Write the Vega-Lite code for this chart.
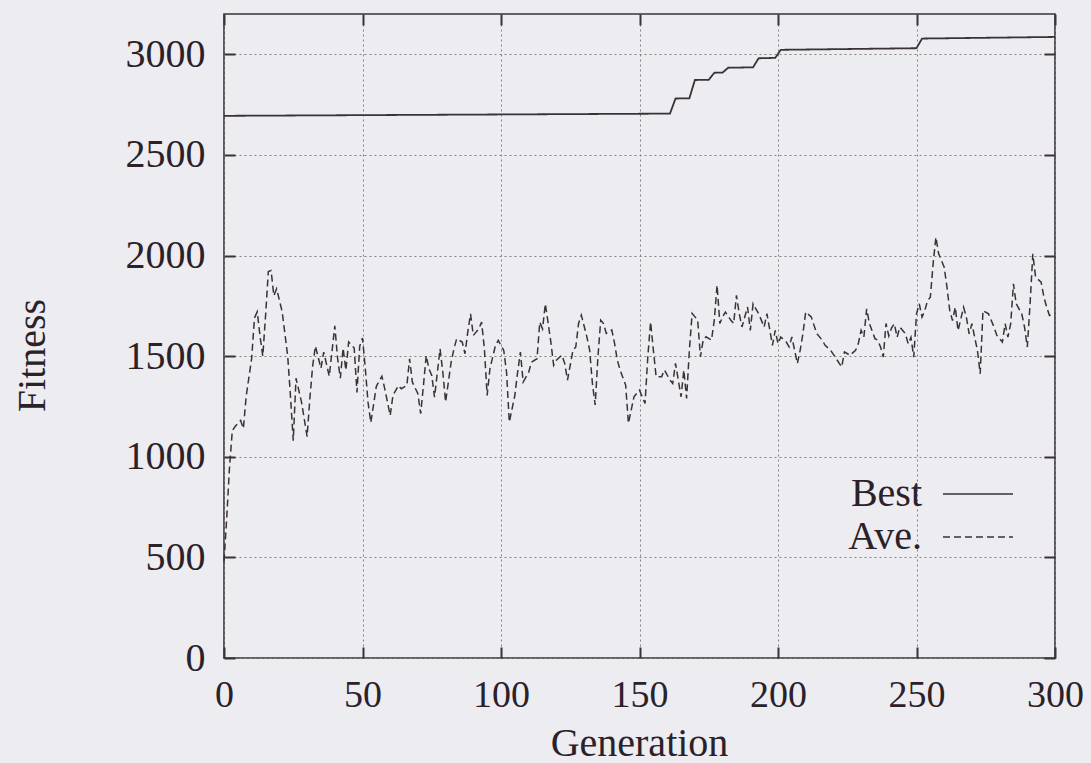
{
  "$schema": "https://vega.github.io/schema/vega-lite/v6.json",
  "autosize": {"type": "none"},
  "padding": {"left": 224, "top": 14, "right": 36, "bottom": 105},
  "width": 831,
  "height": 644,
  "background": "#edecf1",
  "config": {
    "font": "Liberation Serif",
    "view": {"stroke": "#3a3236", "strokeWidth": 1.6, "fill": "#edecf1"},
    "axis": {
      "domain": false,
      "tickSize": -11,
      "tickWidth": 2,
      "tickColor": "#3a3236",
      "labelFont": "Liberation Serif",
      "labelFontSize": 40,
      "labelColor": "#2a2228",
      "titleFont": "Liberation Serif",
      "titleFontSize": 40,
      "titleFontWeight": "normal",
      "titleColor": "#2a2228",
      "gridColor": "#808080",
      "gridDash": [2, 3],
      "gridWidth": 1
    },
    "legend": {
      "labelFont": "Liberation Serif",
      "labelFontSize": 40,
      "labelColor": "#2a2228"
    }
  },
  "datasets": {
    "fit": [
      {"Generation": 0, "Fitness": 2694, "Series": "Best"},
      {"Generation": 161, "Fitness": 2705, "Series": "Best"},
      {"Generation": 163, "Fitness": 2780, "Series": "Best"},
      {"Generation": 168, "Fitness": 2781, "Series": "Best"},
      {"Generation": 170, "Fitness": 2872, "Series": "Best"},
      {"Generation": 175, "Fitness": 2873, "Series": "Best"},
      {"Generation": 177, "Fitness": 2908, "Series": "Best"},
      {"Generation": 180, "Fitness": 2909, "Series": "Best"},
      {"Generation": 182, "Fitness": 2933, "Series": "Best"},
      {"Generation": 191, "Fitness": 2935, "Series": "Best"},
      {"Generation": 193, "Fitness": 2980, "Series": "Best"},
      {"Generation": 199, "Fitness": 2982, "Series": "Best"},
      {"Generation": 201, "Fitness": 3022, "Series": "Best"},
      {"Generation": 250, "Fitness": 3030, "Series": "Best"},
      {"Generation": 252, "Fitness": 3078, "Series": "Best"},
      {"Generation": 300, "Fitness": 3086, "Series": "Best"},
      {"Generation": 0, "Fitness": 480, "Series": "Ave."},
      {"Generation": 1, "Fitness": 700, "Series": "Ave."},
      {"Generation": 2, "Fitness": 950, "Series": "Ave."},
      {"Generation": 3, "Fitness": 1130, "Series": "Ave."},
      {"Generation": 4, "Fitness": 1150, "Series": "Ave."},
      {"Generation": 6, "Fitness": 1180, "Series": "Ave."},
      {"Generation": 7, "Fitness": 1140, "Series": "Ave."},
      {"Generation": 8, "Fitness": 1300, "Series": "Ave."},
      {"Generation": 10, "Fitness": 1490, "Series": "Ave."},
      {"Generation": 11, "Fitness": 1690, "Series": "Ave."},
      {"Generation": 12, "Fitness": 1720, "Series": "Ave."},
      {"Generation": 13, "Fitness": 1600, "Series": "Ave."},
      {"Generation": 14, "Fitness": 1500, "Series": "Ave."},
      {"Generation": 15, "Fitness": 1700, "Series": "Ave."},
      {"Generation": 16, "Fitness": 1920, "Series": "Ave."},
      {"Generation": 17, "Fitness": 1925, "Series": "Ave."},
      {"Generation": 18, "Fitness": 1800, "Series": "Ave."},
      {"Generation": 19, "Fitness": 1835, "Series": "Ave."},
      {"Generation": 21, "Fitness": 1720, "Series": "Ave."},
      {"Generation": 23, "Fitness": 1500, "Series": "Ave."},
      {"Generation": 24, "Fitness": 1300, "Series": "Ave."},
      {"Generation": 25, "Fitness": 1080, "Series": "Ave."},
      {"Generation": 26, "Fitness": 1390, "Series": "Ave."},
      {"Generation": 28, "Fitness": 1270, "Series": "Ave."},
      {"Generation": 30, "Fitness": 1100, "Series": "Ave."},
      {"Generation": 31, "Fitness": 1290, "Series": "Ave."},
      {"Generation": 32, "Fitness": 1450, "Series": "Ave."},
      {"Generation": 33, "Fitness": 1550, "Series": "Ave."},
      {"Generation": 35, "Fitness": 1440, "Series": "Ave."},
      {"Generation": 36, "Fitness": 1520, "Series": "Ave."},
      {"Generation": 38, "Fitness": 1400, "Series": "Ave."},
      {"Generation": 40, "Fitness": 1650, "Series": "Ave."},
      {"Generation": 41, "Fitness": 1490, "Series": "Ave."},
      {"Generation": 42, "Fitness": 1390, "Series": "Ave."},
      {"Generation": 43, "Fitness": 1540, "Series": "Ave."},
      {"Generation": 44, "Fitness": 1430, "Series": "Ave."},
      {"Generation": 45, "Fitness": 1570, "Series": "Ave."},
      {"Generation": 47, "Fitness": 1540, "Series": "Ave."},
      {"Generation": 48, "Fitness": 1320, "Series": "Ave."},
      {"Generation": 49, "Fitness": 1550, "Series": "Ave."},
      {"Generation": 50, "Fitness": 1590, "Series": "Ave."},
      {"Generation": 51, "Fitness": 1440, "Series": "Ave."},
      {"Generation": 52, "Fitness": 1270, "Series": "Ave."},
      {"Generation": 53, "Fitness": 1170, "Series": "Ave."},
      {"Generation": 55, "Fitness": 1350, "Series": "Ave."},
      {"Generation": 57, "Fitness": 1400, "Series": "Ave."},
      {"Generation": 58, "Fitness": 1340, "Series": "Ave."},
      {"Generation": 60, "Fitness": 1205, "Series": "Ave."},
      {"Generation": 61, "Fitness": 1305, "Series": "Ave."},
      {"Generation": 63, "Fitness": 1354, "Series": "Ave."},
      {"Generation": 64, "Fitness": 1338, "Series": "Ave."},
      {"Generation": 66, "Fitness": 1354, "Series": "Ave."},
      {"Generation": 67, "Fitness": 1487, "Series": "Ave."},
      {"Generation": 68, "Fitness": 1371, "Series": "Ave."},
      {"Generation": 70, "Fitness": 1313, "Series": "Ave."},
      {"Generation": 71, "Fitness": 1214, "Series": "Ave."},
      {"Generation": 72, "Fitness": 1354, "Series": "Ave."},
      {"Generation": 73, "Fitness": 1503, "Series": "Ave."},
      {"Generation": 74, "Fitness": 1437, "Series": "Ave."},
      {"Generation": 75, "Fitness": 1404, "Series": "Ave."},
      {"Generation": 76, "Fitness": 1296, "Series": "Ave."},
      {"Generation": 78, "Fitness": 1536, "Series": "Ave."},
      {"Generation": 79, "Fitness": 1420, "Series": "Ave."},
      {"Generation": 80, "Fitness": 1272, "Series": "Ave."},
      {"Generation": 82, "Fitness": 1470, "Series": "Ave."},
      {"Generation": 83, "Fitness": 1536, "Series": "Ave."},
      {"Generation": 84, "Fitness": 1586, "Series": "Ave."},
      {"Generation": 86, "Fitness": 1570, "Series": "Ave."},
      {"Generation": 87, "Fitness": 1512, "Series": "Ave."},
      {"Generation": 88, "Fitness": 1619, "Series": "Ave."},
      {"Generation": 89, "Fitness": 1710, "Series": "Ave."},
      {"Generation": 90, "Fitness": 1603, "Series": "Ave."},
      {"Generation": 92, "Fitness": 1636, "Series": "Ave."},
      {"Generation": 93, "Fitness": 1669, "Series": "Ave."},
      {"Generation": 94, "Fitness": 1536, "Series": "Ave."},
      {"Generation": 95, "Fitness": 1305, "Series": "Ave."},
      {"Generation": 96, "Fitness": 1437, "Series": "Ave."},
      {"Generation": 98, "Fitness": 1553, "Series": "Ave."},
      {"Generation": 99, "Fitness": 1578, "Series": "Ave."},
      {"Generation": 101, "Fitness": 1528, "Series": "Ave."},
      {"Generation": 102, "Fitness": 1420, "Series": "Ave."},
      {"Generation": 103, "Fitness": 1172, "Series": "Ave."},
      {"Generation": 105, "Fitness": 1305, "Series": "Ave."},
      {"Generation": 106, "Fitness": 1420, "Series": "Ave."},
      {"Generation": 107, "Fitness": 1520, "Series": "Ave."},
      {"Generation": 108, "Fitness": 1371, "Series": "Ave."},
      {"Generation": 110, "Fitness": 1420, "Series": "Ave."},
      {"Generation": 111, "Fitness": 1470, "Series": "Ave."},
      {"Generation": 113, "Fitness": 1487, "Series": "Ave."},
      {"Generation": 114, "Fitness": 1669, "Series": "Ave."},
      {"Generation": 115, "Fitness": 1636, "Series": "Ave."},
      {"Generation": 116, "Fitness": 1760, "Series": "Ave."},
      {"Generation": 118, "Fitness": 1570, "Series": "Ave."},
      {"Generation": 119, "Fitness": 1454, "Series": "Ave."},
      {"Generation": 120, "Fitness": 1480, "Series": "Ave."},
      {"Generation": 122, "Fitness": 1505, "Series": "Ave."},
      {"Generation": 123, "Fitness": 1464, "Series": "Ave."},
      {"Generation": 124, "Fitness": 1381, "Series": "Ave."},
      {"Generation": 126, "Fitness": 1530, "Series": "Ave."},
      {"Generation": 127, "Fitness": 1546, "Series": "Ave."},
      {"Generation": 128, "Fitness": 1662, "Series": "Ave."},
      {"Generation": 129, "Fitness": 1704, "Series": "Ave."},
      {"Generation": 131, "Fitness": 1596, "Series": "Ave."},
      {"Generation": 132, "Fitness": 1530, "Series": "Ave."},
      {"Generation": 133, "Fitness": 1364, "Series": "Ave."},
      {"Generation": 134, "Fitness": 1257, "Series": "Ave."},
      {"Generation": 135, "Fitness": 1497, "Series": "Ave."},
      {"Generation": 136, "Fitness": 1679, "Series": "Ave."},
      {"Generation": 137, "Fitness": 1662, "Series": "Ave."},
      {"Generation": 138, "Fitness": 1613, "Series": "Ave."},
      {"Generation": 140, "Fitness": 1630, "Series": "Ave."},
      {"Generation": 141, "Fitness": 1563, "Series": "Ave."},
      {"Generation": 142, "Fitness": 1480, "Series": "Ave."},
      {"Generation": 143, "Fitness": 1431, "Series": "Ave."},
      {"Generation": 145, "Fitness": 1356, "Series": "Ave."},
      {"Generation": 146, "Fitness": 1166, "Series": "Ave."},
      {"Generation": 148, "Fitness": 1298, "Series": "Ave."},
      {"Generation": 149, "Fitness": 1315, "Series": "Ave."},
      {"Generation": 150, "Fitness": 1331, "Series": "Ave."},
      {"Generation": 152, "Fitness": 1265, "Series": "Ave."},
      {"Generation": 153, "Fitness": 1497, "Series": "Ave."},
      {"Generation": 154, "Fitness": 1670, "Series": "Ave."},
      {"Generation": 155, "Fitness": 1530, "Series": "Ave."},
      {"Generation": 156, "Fitness": 1398, "Series": "Ave."},
      {"Generation": 158, "Fitness": 1398, "Series": "Ave."},
      {"Generation": 159, "Fitness": 1431, "Series": "Ave."},
      {"Generation": 161, "Fitness": 1381, "Series": "Ave."},
      {"Generation": 162, "Fitness": 1364, "Series": "Ave."},
      {"Generation": 163, "Fitness": 1464, "Series": "Ave."},
      {"Generation": 165, "Fitness": 1298, "Series": "Ave."},
      {"Generation": 166, "Fitness": 1431, "Series": "Ave."},
      {"Generation": 167, "Fitness": 1290, "Series": "Ave."},
      {"Generation": 168, "Fitness": 1530, "Series": "Ave."},
      {"Generation": 169, "Fitness": 1712, "Series": "Ave."},
      {"Generation": 171, "Fitness": 1679, "Series": "Ave."},
      {"Generation": 172, "Fitness": 1497, "Series": "Ave."},
      {"Generation": 173, "Fitness": 1580, "Series": "Ave."},
      {"Generation": 174, "Fitness": 1596, "Series": "Ave."},
      {"Generation": 176, "Fitness": 1580, "Series": "Ave."},
      {"Generation": 177, "Fitness": 1679, "Series": "Ave."},
      {"Generation": 178, "Fitness": 1853, "Series": "Ave."},
      {"Generation": 179, "Fitness": 1662, "Series": "Ave."},
      {"Generation": 180, "Fitness": 1695, "Series": "Ave."},
      {"Generation": 181, "Fitness": 1719, "Series": "Ave."},
      {"Generation": 183, "Fitness": 1678, "Series": "Ave."},
      {"Generation": 184, "Fitness": 1662, "Series": "Ave."},
      {"Generation": 185, "Fitness": 1802, "Series": "Ave."},
      {"Generation": 186, "Fitness": 1711, "Series": "Ave."},
      {"Generation": 187, "Fitness": 1645, "Series": "Ave."},
      {"Generation": 189, "Fitness": 1744, "Series": "Ave."},
      {"Generation": 190, "Fitness": 1628, "Series": "Ave."},
      {"Generation": 191, "Fitness": 1760, "Series": "Ave."},
      {"Generation": 192, "Fitness": 1735, "Series": "Ave."},
      {"Generation": 193, "Fitness": 1711, "Series": "Ave."},
      {"Generation": 195, "Fitness": 1645, "Series": "Ave."},
      {"Generation": 196, "Fitness": 1711, "Series": "Ave."},
      {"Generation": 198, "Fitness": 1554, "Series": "Ave."},
      {"Generation": 199, "Fitness": 1628, "Series": "Ave."},
      {"Generation": 200, "Fitness": 1562, "Series": "Ave."},
      {"Generation": 201, "Fitness": 1595, "Series": "Ave."},
      {"Generation": 203, "Fitness": 1570, "Series": "Ave."},
      {"Generation": 204, "Fitness": 1546, "Series": "Ave."},
      {"Generation": 205, "Fitness": 1595, "Series": "Ave."},
      {"Generation": 207, "Fitness": 1463, "Series": "Ave."},
      {"Generation": 208, "Fitness": 1529, "Series": "Ave."},
      {"Generation": 209, "Fitness": 1612, "Series": "Ave."},
      {"Generation": 210, "Fitness": 1719, "Series": "Ave."},
      {"Generation": 212, "Fitness": 1695, "Series": "Ave."},
      {"Generation": 214, "Fitness": 1612, "Series": "Ave."},
      {"Generation": 216, "Fitness": 1579, "Series": "Ave."},
      {"Generation": 217, "Fitness": 1554, "Series": "Ave."},
      {"Generation": 219, "Fitness": 1529, "Series": "Ave."},
      {"Generation": 221, "Fitness": 1488, "Series": "Ave."},
      {"Generation": 223, "Fitness": 1446, "Series": "Ave."},
      {"Generation": 224, "Fitness": 1521, "Series": "Ave."},
      {"Generation": 226, "Fitness": 1504, "Series": "Ave."},
      {"Generation": 228, "Fitness": 1529, "Series": "Ave."},
      {"Generation": 229, "Fitness": 1562, "Series": "Ave."},
      {"Generation": 230, "Fitness": 1628, "Series": "Ave."},
      {"Generation": 231, "Fitness": 1595, "Series": "Ave."},
      {"Generation": 232, "Fitness": 1735, "Series": "Ave."},
      {"Generation": 233, "Fitness": 1662, "Series": "Ave."},
      {"Generation": 235, "Fitness": 1587, "Series": "Ave."},
      {"Generation": 236, "Fitness": 1579, "Series": "Ave."},
      {"Generation": 237, "Fitness": 1546, "Series": "Ave."},
      {"Generation": 238, "Fitness": 1496, "Series": "Ave."},
      {"Generation": 239, "Fitness": 1662, "Series": "Ave."},
      {"Generation": 240, "Fitness": 1600, "Series": "Ave."},
      {"Generation": 241, "Fitness": 1640, "Series": "Ave."},
      {"Generation": 242, "Fitness": 1661, "Series": "Ave."},
      {"Generation": 243, "Fitness": 1594, "Series": "Ave."},
      {"Generation": 244, "Fitness": 1644, "Series": "Ave."},
      {"Generation": 246, "Fitness": 1611, "Series": "Ave."},
      {"Generation": 247, "Fitness": 1561, "Series": "Ave."},
      {"Generation": 248, "Fitness": 1594, "Series": "Ave."},
      {"Generation": 249, "Fitness": 1495, "Series": "Ave."},
      {"Generation": 250, "Fitness": 1710, "Series": "Ave."},
      {"Generation": 251, "Fitness": 1760, "Series": "Ave."},
      {"Generation": 252, "Fitness": 1694, "Series": "Ave."},
      {"Generation": 253, "Fitness": 1727, "Series": "Ave."},
      {"Generation": 254, "Fitness": 1776, "Series": "Ave."},
      {"Generation": 255, "Fitness": 1793, "Series": "Ave."},
      {"Generation": 256, "Fitness": 1959, "Series": "Ave."},
      {"Generation": 257, "Fitness": 2091, "Series": "Ave."},
      {"Generation": 258, "Fitness": 2008, "Series": "Ave."},
      {"Generation": 259, "Fitness": 1975, "Series": "Ave."},
      {"Generation": 260, "Fitness": 1942, "Series": "Ave."},
      {"Generation": 261, "Fitness": 1843, "Series": "Ave."},
      {"Generation": 262, "Fitness": 1727, "Series": "Ave."},
      {"Generation": 263, "Fitness": 1677, "Series": "Ave."},
      {"Generation": 264, "Fitness": 1743, "Series": "Ave."},
      {"Generation": 265, "Fitness": 1627, "Series": "Ave."},
      {"Generation": 267, "Fitness": 1743, "Series": "Ave."},
      {"Generation": 268, "Fitness": 1694, "Series": "Ave."},
      {"Generation": 269, "Fitness": 1611, "Series": "Ave."},
      {"Generation": 270, "Fitness": 1661, "Series": "Ave."},
      {"Generation": 271, "Fitness": 1594, "Series": "Ave."},
      {"Generation": 272, "Fitness": 1528, "Series": "Ave."},
      {"Generation": 273, "Fitness": 1412, "Series": "Ave."},
      {"Generation": 274, "Fitness": 1727, "Series": "Ave."},
      {"Generation": 276, "Fitness": 1710, "Series": "Ave."},
      {"Generation": 277, "Fitness": 1677, "Series": "Ave."},
      {"Generation": 278, "Fitness": 1644, "Series": "Ave."},
      {"Generation": 279, "Fitness": 1603, "Series": "Ave."},
      {"Generation": 281, "Fitness": 1570, "Series": "Ave."},
      {"Generation": 282, "Fitness": 1661, "Series": "Ave."},
      {"Generation": 283, "Fitness": 1594, "Series": "Ave."},
      {"Generation": 284, "Fitness": 1661, "Series": "Ave."},
      {"Generation": 285, "Fitness": 1859, "Series": "Ave."},
      {"Generation": 286, "Fitness": 1760, "Series": "Ave."},
      {"Generation": 288, "Fitness": 1710, "Series": "Ave."},
      {"Generation": 289, "Fitness": 1644, "Series": "Ave."},
      {"Generation": 290, "Fitness": 1545, "Series": "Ave."},
      {"Generation": 291, "Fitness": 1760, "Series": "Ave."},
      {"Generation": 292, "Fitness": 2008, "Series": "Ave."},
      {"Generation": 293, "Fitness": 1892, "Series": "Ave."},
      {"Generation": 295, "Fitness": 1868, "Series": "Ave."},
      {"Generation": 296, "Fitness": 1793, "Series": "Ave."},
      {"Generation": 297, "Fitness": 1743, "Series": "Ave."},
      {"Generation": 298, "Fitness": 1702, "Series": "Ave."},
      {"Generation": 300, "Fitness": 1710, "Series": "Ave."}
    ]
  },
  "data": {"name": "fit"},
  "layer": [
    {
      "transform": [{"filter": "datum.Series === 'Best'"}],
      "mark": {"type": "line", "color": "#3a3236", "strokeWidth": 1.8, "interpolate": "linear"},
      "encoding": {
        "x": {
          "field": "Generation", "type": "quantitative",
          "scale": {"domain": [0, 300], "nice": false, "zero": false},
          "axis": {
            "orient": "bottom", "values": [0, 50, 100, 150, 200, 250, 300],
            "grid": true, "labelPadding": 29, "labelFlush": false, "labelFontSize": 38,
            "title": "Generation", "titleX": 415, "titleY": 97, "titleBaseline": "alphabetic"
          }
        },
        "y": {
          "field": "Fitness", "type": "quantitative",
          "scale": {"domain": [0, 3200], "nice": false},
          "axis": {
            "orient": "left", "values": [0, 500, 1000, 1500, 2000, 2500, 3000], "format": "d",
            "grid": true, "labelPadding": 30, "labelFlush": false,
            "title": "Fitness", "titleX": -180, "titleY": 341, "titleAngle": -90, "titleBaseline": "alphabetic"
          }
        },
        "strokeDash": {
          "field": "Series",
          "type": "nominal",
          "scale": {"domain": ["Best", "Ave."], "range": [[1, 0], [7, 4]]},
          "legend": {
            "orient": "none", "legendX": 734, "legendY": 460,
            "title": null, "symbolType": "M-2,0H2", "symbolSize": 1225,
            "symbolStrokeWidth": 1.6, "symbolStrokeColor": "#3a3236",
            "labelAlign": "right", "labelOffset": -76, "rowPadding": 3,
            "padding": 0
          }
        }
      }
    },
    {
      "transform": [{"filter": "datum.Series === 'Ave.'"}],
      "mark": {"type": "line", "color": "#3a3236", "strokeWidth": 1.5, "interpolate": "linear"},
      "encoding": {
        "x": {
          "field": "Generation", "type": "quantitative",
          "scale": {"domain": [0, 300], "nice": false, "zero": false},
          "axis": {"orient": "top", "values": [0, 50, 100, 150, 200, 250, 300], "grid": false, "labels": false, "title": null}
        },
        "y": {
          "field": "Fitness", "type": "quantitative",
          "scale": {"domain": [0, 3200], "nice": false},
          "axis": {"orient": "right", "values": [0, 500, 1000, 1500, 2000, 2500, 3000], "grid": false, "labels": false, "title": null}
        },
        "strokeDash": {
          "field": "Series",
          "type": "nominal",
          "scale": {"domain": ["Best", "Ave."], "range": [[1, 0], [7, 4]]}
        }
      }
    }
  ],
  "resolve": {"axis": {"x": "independent", "y": "independent"}}
}
